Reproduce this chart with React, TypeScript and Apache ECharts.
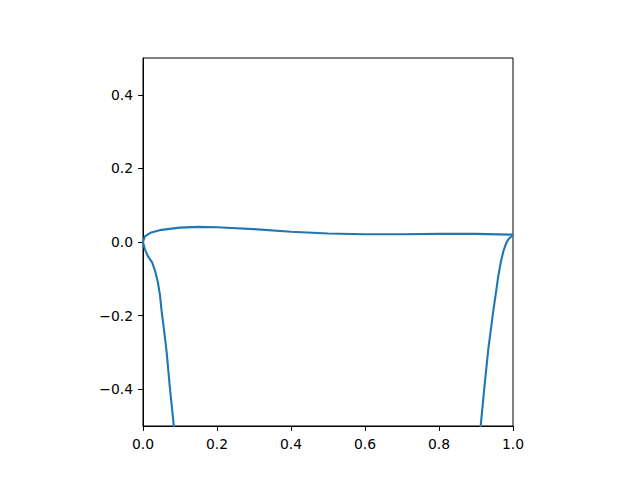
import React, { useEffect, useRef } from "react";
import * as echarts from "echarts";

// Airfoil-like outline: upper surface from trailing edge to leading edge, then lower surface back
const upperX = [1.0, 0.9, 0.8, 0.7, 0.6, 0.5, 0.4, 0.3, 0.2, 0.15, 0.1, 0.05, 0.02, 0.005, 0.0];
const upperY = [0.020, 0.022, 0.022, 0.021, 0.021, 0.023, 0.028, 0.035, 0.040, 0.041, 0.039, 0.033, 0.025, 0.015, 0.0];
const lowerX = [0.005, 0.014, 0.025, 0.033, 0.04, 0.046, 0.05, 0.057, 0.064, 0.073, 0.084, 0.1, 0.5, 0.9, 0.912, 0.922, 0.933, 0.947, 0.955, 0.960, 0.967, 0.974, 0.981, 0.988, 1.0];
const lowerY = [-0.02, -0.04, -0.056, -0.08, -0.108, -0.145, -0.185, -0.24, -0.30, -0.40, -0.506, -0.85, -5.0, -0.75, -0.506, -0.402, -0.293, -0.185, -0.13, -0.094, -0.055, -0.025, -0.005, 0.008, 0.020];
const xTicks = [0, 0.2, 0.4, 0.6, 0.8, 1.0];
const yTicks = [-0.4, -0.2, 0, 0.2, 0.4];

const fmt = (v: number) => {
  const s = Math.abs(v).toFixed(1);
  return v < -1e-9 ? "\u2212" + s : s;
};

export default function App() {
  const ref = useRef<HTMLDivElement>(null);
  useEffect(() => {
    if (!ref.current) return;
    const chart = echarts.init(ref.current, null, { renderer: "svg" });
    const data: number[][] = [];
    upperX.forEach((x, i) => data.push([x, upperY[i]]));
    lowerX.forEach((x, i) => data.push([x, lowerY[i]]));
    const axisCommon = {
      axisLine: { show: true, onZero: false, lineStyle: { color: "#000", width: 1 } },
      axisTick: { show: true, length: 4.9, lineStyle: { color: "#000", width: 1 } },
      splitLine: { show: false },
    };
    chart.setOption({
      animation: false,
      backgroundColor: "#fff",
      grid: { left: 143, top: 58, width: 370, height: 368, show: true, borderColor: "#000", borderWidth: 1, backgroundColor: "transparent" },
      xAxis: {
        type: "value",
        min: 0,
        max: 1,
        ...axisCommon,
        axisTick: { ...axisCommon.axisTick, customValues: xTicks },
        axisLabel: { customValues: xTicks, formatter: fmt, margin: 10.7, color: "#000", fontFamily: "DejaVu Sans", fontSize: 13.9 },
      },
      yAxis: {
        type: "value",
        min: -0.5,
        max: 0.5,
        ...axisCommon,
        axisTick: { ...axisCommon.axisTick, customValues: yTicks },
        axisLabel: { customValues: yTicks, formatter: fmt, margin: 10, color: "#000", fontFamily: "DejaVu Sans", fontSize: 13.9 },
      },
      series: [
        {
          type: "line",
          data,
          showSymbol: false,
          symbol: "none",
          smooth: false,
          clip: true,
          lineStyle: { color: "#1f77b4", width: 2.1 },
        },
      ],
    });
    return () => chart.dispose();
  }, []);
  return <div ref={ref} style={{ width: 640, height: 480, margin: -8 }} />;
}
